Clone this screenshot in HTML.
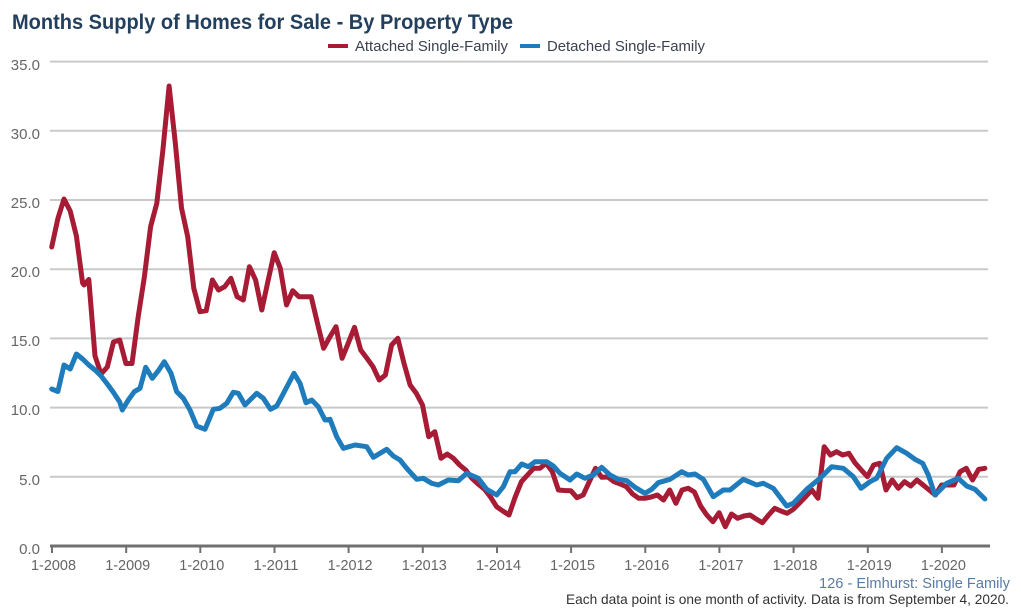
<!DOCTYPE html>
<html>
<head>
<meta charset="utf-8">
<style>
  html, body { margin: 0; padding: 0; background: #ffffff; }
  svg { display: block; }
  text { font-family: "Liberation Sans", Arial, sans-serif; }
</style>
</head>
<body>
<svg width="1021" height="616" viewBox="0 0 1021 616" xmlns="http://www.w3.org/2000/svg">
  <rect x="0" y="0" width="1021" height="616" fill="#ffffff"/>

  <!-- Title -->
  <text x="12" y="29" font-size="21" font-weight="bold" fill="#223f5e" textLength="501" lengthAdjust="spacingAndGlyphs">Months Supply of Homes for Sale - By Property Type</text>

  <!-- Legend -->
  <rect x="328" y="44" width="20" height="4" fill="#a71b35"/>
  <text x="355" y="51" font-size="15" fill="#3b4150" textLength="153" lengthAdjust="spacingAndGlyphs">Attached Single-Family</text>
  <rect x="520" y="44" width="20" height="4" fill="#1f7cbc"/>
  <text x="547" y="51" font-size="15" fill="#3b4150" textLength="158" lengthAdjust="spacingAndGlyphs">Detached Single-Family</text>

  <!-- Grid lines -->
  <g stroke="#c9c9c9" stroke-width="2">
    <line x1="50" y1="61.6" x2="988" y2="61.6"/>
    <line x1="50" y1="130.8" x2="988" y2="130.8"/>
    <line x1="50" y1="200" x2="988" y2="200"/>
    <line x1="50" y1="269.2" x2="988" y2="269.2"/>
    <line x1="50" y1="338.4" x2="988" y2="338.4"/>
    <line x1="50" y1="407.6" x2="988" y2="407.6"/>
    <line x1="50" y1="476.8" x2="988" y2="476.8"/>
  </g>

  <!-- Y labels -->
  <g font-size="15" fill="#666666" text-anchor="end">
    <text x="40" y="70">35.0</text>
    <text x="40" y="139">30.0</text>
    <text x="40" y="208">25.0</text>
    <text x="40" y="277">20.0</text>
    <text x="40" y="346">15.0</text>
    <text x="40" y="415">10.0</text>
    <text x="40" y="485">5.0</text>
    <text x="40" y="554">0.0</text>
  </g>

  <!-- Series: Attached (red) -->
  <polyline fill="none" stroke="#a71b35" stroke-width="5" stroke-linejoin="round" stroke-linecap="round"
    points="51.7,247 57.9,218.5 64,199 70.2,211 76.4,236 82.6,283 84,285 88.8,279.5 95,356 101.1,374 107.3,367 113.5,342 119.7,340 125.9,363.5 132,363.5 138.2,316.7 144.4,276.7 150.6,226.7 156.8,203.3 162.9,150 169.1,86 175.3,143 181.5,208 187.7,236.7 193.8,288.3 200,311.7 206.2,310.7 212.4,280 218.5,290 224.7,286.7 230.9,278.3 237.1,296.7 243.3,300 249.4,266.7 255.6,280 261.8,310 268,281 274.2,252.7 280.3,268.3 286.5,305 292.7,290.7 298.9,296.7 305.1,296.7 311.2,296.7 317.4,323 323.6,348.3 329.8,337 336,326.7 342.1,358.3 348.3,343 354.5,327.3 360.7,350 366.9,358.3 373,366.7 379.2,380 385.4,375 391.6,345 397.8,338.3 403.9,363 410.1,385 416.3,393.3 422.5,405 428.7,436.7 434.8,431.7 441,458.3 447.2,454 453.4,458.3 459.6,465 465.7,470 471.9,478.3 478.1,484 484.3,489 490.5,497 496.6,506.7 502.8,511 509,515 515.2,497 521.4,481.7 527.5,475 533.7,468.3 539.9,468.3 546.1,463.3 552.3,471.7 558.4,490 564.6,490.5 570.8,490.7 577,497.7 583.2,495 589.3,481.7 595.5,468.3 601.7,477.3 607.9,477 614.1,481.7 620.2,484 626.4,486.7 632.6,494 638.8,498.3 645,498.3 651.1,497 657.3,495 663.5,500 669.7,490 675.9,503.3 682,490 688.2,488.3 694.4,492 700.6,506 706.8,515 712.9,521.7 719.1,512.7 725.3,526.7 731.5,514 737.7,518.3 743.8,516 750,515 756.2,519 762.4,522.7 768.6,515 774.7,508.3 780.9,511 787.1,513.3 793.3,509.3 799.5,503 805.6,496.7 811.8,490 818,498.3 824.2,446.7 830.4,455 836.5,451.7 842.7,455 848.9,453.3 855.1,463 861.3,470 867.4,476.7 873.6,465 879.8,463.3 886,490 892.2,480 898.3,488.3 904.5,481.7 910.7,486 916.9,480 923.1,485 929.2,490 935.4,495 941.6,485 947.8,485 954,485 960.1,471.7 966.3,468.3 972.5,480 978.7,469.3 984.9,468.3"/>

  <!-- Series: Detached (blue) -->
  <polyline fill="none" stroke="#1f7cbc" stroke-width="5" stroke-linejoin="round" stroke-linecap="round"
    points="51.7,389 57.9,391.5 64,365 70.2,369 76.4,354 82.6,359 88.8,365 95,370 101.1,376 107.3,384 113.5,392.5 119.7,402 122.3,410 128.3,400 134.3,391.7 140,388.3 145.7,367.3 152.3,378.3 158.3,370.7 164.3,361.7 171,373.3 176.7,391.7 183.3,398.3 190,410 196.7,426 205,429.3 213.3,409.3 220,408.3 226.7,403.3 233.3,392.3 238.3,393.3 245,405 256.7,393.3 263.3,398.3 270.5,409.3 276.7,406 281.7,396.7 294,373.3 300,383.3 306,402.7 311.7,400 318.3,406.7 325,420 330,419.3 336.7,436.7 343.3,448.3 355,445 366.7,446.7 373.3,457.3 380,453.3 386.7,449.3 393.3,456 400,460 406.7,468.3 416.7,479.3 423.3,478.3 431.7,483.3 438.3,485 448.3,480 458.3,480.7 466.7,473.3 478.3,478.3 486.7,489.3 496.7,495 503.3,486.7 510,471.7 515,471.7 521.7,464 528.3,466.7 535,461.7 546.7,461.7 553.3,466 560,473.3 570,480 576.7,474 585,478.3 593.3,475 601.7,467.3 610,475 618.3,479.3 626.7,480.7 635,487.3 645,493.3 651.7,489.3 658.3,482.7 670,479.3 681.7,471.7 688.3,475 695,474 703.3,479.3 713.3,496.7 723.3,490 730,490 743.3,479.3 756.7,485 763.3,483.3 773.3,488.3 786.7,506 793.3,503.3 806.7,489.3 820,478.3 831.7,466.7 843.3,468.3 853.3,476.7 861,488.3 870,481.7 876.7,478.3 886.7,458.3 896.7,447.7 906.7,453.3 915,459.3 922.7,463.3 928.3,475 935,495 946.7,483.3 958.3,478.3 966.7,486 975,489.3 984.9,499"/>

  <!-- X axis -->
  <line x1="50" y1="546" x2="990" y2="546" stroke="#707070" stroke-width="3"/>
  <g stroke="#707070" stroke-width="2">
    <line x1="52" y1="546" x2="52" y2="553"/>
    <line x1="126.2" y1="546" x2="126.2" y2="553"/>
    <line x1="200.3" y1="546" x2="200.3" y2="553"/>
    <line x1="274.5" y1="546" x2="274.5" y2="553"/>
    <line x1="348.6" y1="546" x2="348.6" y2="553"/>
    <line x1="422.8" y1="546" x2="422.8" y2="553"/>
    <line x1="497" y1="546" x2="497" y2="553"/>
    <line x1="571.1" y1="546" x2="571.1" y2="553"/>
    <line x1="645.3" y1="546" x2="645.3" y2="553"/>
    <line x1="719.4" y1="546" x2="719.4" y2="553"/>
    <line x1="793.6" y1="546" x2="793.6" y2="553"/>
    <line x1="867.8" y1="546" x2="867.8" y2="553"/>
    <line x1="941.9" y1="546" x2="941.9" y2="553"/>
  </g>

  <!-- X labels -->
  <g font-size="15" fill="#666666" text-anchor="middle">
    <text x="53.5" y="570" textLength="45" lengthAdjust="spacingAndGlyphs">1-2008</text>
    <text x="127.7" y="570" textLength="45" lengthAdjust="spacingAndGlyphs">1-2009</text>
    <text x="201.8" y="570" textLength="45" lengthAdjust="spacingAndGlyphs">1-2010</text>
    <text x="276" y="570" textLength="45" lengthAdjust="spacingAndGlyphs">1-2011</text>
    <text x="350.1" y="570" textLength="45" lengthAdjust="spacingAndGlyphs">1-2012</text>
    <text x="424.3" y="570" textLength="45" lengthAdjust="spacingAndGlyphs">1-2013</text>
    <text x="498.5" y="570" textLength="45" lengthAdjust="spacingAndGlyphs">1-2014</text>
    <text x="572.6" y="570" textLength="45" lengthAdjust="spacingAndGlyphs">1-2015</text>
    <text x="646.8" y="570" textLength="45" lengthAdjust="spacingAndGlyphs">1-2016</text>
    <text x="720.9" y="570" textLength="45" lengthAdjust="spacingAndGlyphs">1-2017</text>
    <text x="795.1" y="570" textLength="45" lengthAdjust="spacingAndGlyphs">1-2018</text>
    <text x="869.3" y="570" textLength="45" lengthAdjust="spacingAndGlyphs">1-2019</text>
    <text x="943.4" y="570" textLength="45" lengthAdjust="spacingAndGlyphs">1-2020</text>
  </g>

  <!-- Footer -->
  <text x="1010" y="588" font-size="14.5" fill="#5a7ba2" text-anchor="end" textLength="191" lengthAdjust="spacingAndGlyphs">126 - Elmhurst: Single Family</text>
  <text x="1009" y="604" font-size="14" fill="#333333" text-anchor="end" textLength="443" lengthAdjust="spacingAndGlyphs">Each data point is one month of activity. Data is from September 4, 2020.</text>
</svg>
</body>
</html>
